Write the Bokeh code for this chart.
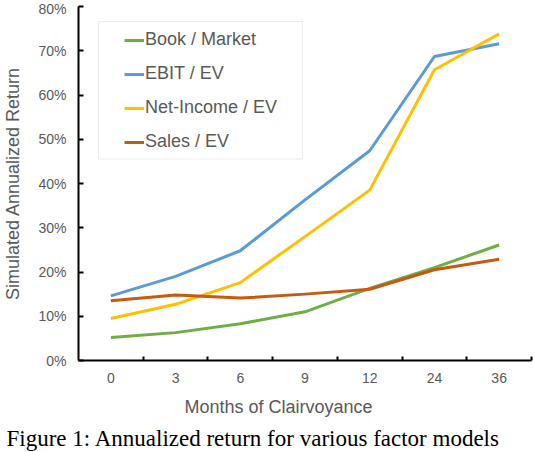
from bokeh.embed import file_html
from bokeh.models import (BoxAnnotation, FixedTicker, Legend, LegendItem,
                          PrintfTickFormatter, Range1d, Title)
from bokeh.plotting import figure
from bokeh.resources import INLINE


months = ["0", "3", "6", "9", "12", "24", "36"]
book_market = [5.2, 6.3, 8.3, 11.0, 16.3, 21.0, 26.1]
ebit_ev = [14.6, 19.0, 24.8, 36.3, 47.4, 68.7, 71.6]
net_income_ev = [9.5, 12.7, 17.6, 28.0, 38.5, 65.7, 73.8]
sales_ev = [13.5, 14.8, 14.1, 15.0, 16.1, 20.5, 22.9]
y_ticks = [0, 10, 20, 30, 40, 50, 60, 70, 80]

FONT = "Liberation Sans"
GRAY = "#595959"

# categories sit in the middle of unit-wide slots, ticks go on the slot edges
x = [i + 0.5 for i in range(len(months))]

p = figure(width=534, height=452, x_range=Range1d(0, len(months)),
           y_range=Range1d(0, 80), output_backend="svg",
           toolbar_location=None, min_border_left=75, min_border_right=3,
           min_border_top=6, min_border_bottom=92)
p.outline_line_color = None
p.grid.visible = False

series = [("Book / Market", book_market, "#70AD47"),
          ("EBIT / EV", ebit_ev, "#5B9BD5"),
          ("Net-Income / EV", net_income_ev, "#FFC000"),
          ("Sales / EV", sales_ev, "#C55A11")]

items = []
for name, ys, color in series:
    r = p.line(x, ys, color=color, line_width=3, line_join="round")
    items.append(LegendItem(label=name, renderers=[r]))

# x axis
p.xaxis.ticker = FixedTicker(ticks=x, minor_ticks=list(range(1, len(months) + 1)))
p.xaxis.major_label_overrides = {xi: m for xi, m in zip(x, months)}
p.xaxis.major_tick_in = 0
p.xaxis.major_tick_out = 0
p.xaxis.minor_tick_in = 4
p.xaxis.minor_tick_out = 0
p.xaxis.minor_tick_line_width = 2
p.xaxis.minor_tick_line_color = "black"
p.xaxis.major_label_standoff = 12

# y axis
p.yaxis.ticker = FixedTicker(ticks=y_ticks, minor_ticks=[])
p.yaxis.formatter = PrintfTickFormatter(format="%d%%")
p.yaxis.major_tick_in = 5
p.yaxis.major_tick_out = 0
p.yaxis.major_tick_line_width = 2
p.yaxis.major_label_standoff = 12
p.yaxis.axis_label = "Simulated Annualized Return"
p.yaxis.axis_label_standoff = 12
p.yaxis.axis_label_text_font = FONT
p.yaxis.axis_label_text_font_size = "18px"
p.yaxis.axis_label_text_font_style = "normal"
p.yaxis.axis_label_text_color = GRAY

for ax in (p.xaxis, p.yaxis):
    ax.axis_line_width = 2
    ax.axis_line_color = "black"
    ax.major_tick_line_color = "black"
    ax.major_label_text_font = FONT
    ax.major_label_text_font_size = "14px"
    ax.major_label_text_color = GRAY

# x title and figure caption stacked under the axis
x_title = Title(text="Months of Clairvoyance", align="left", offset=106,
                vertical_align="bottom", standoff=18, text_font=FONT,
                text_font_size="18px", text_font_style="normal",
                text_color=GRAY)
p.add_layout(x_title, "below")
caption = Title(text="Figure 1: Annualized return for various factor models",
                align="left", offset=-72, vertical_align="top", standoff=0,
                text_font="Liberation Serif", text_font_size="23px",
                text_font_style="normal", text_color="black")
p.add_layout(caption, "below")

# legend frame
p.add_layout(BoxAnnotation(left=20, right=224, top=339, bottom=201.5,
                           left_units="screen", right_units="screen",
                           top_units="screen", bottom_units="screen",
                           fill_color="white", fill_alpha=1,
                           line_color="#BFBFBF", line_width=1))

legend = Legend(items=items, location=(46, 208))
legend.padding = 0
legend.spacing = 13
legend.glyph_width = 20
legend.glyph_height = 20
legend.label_height = 20
legend.label_standoff = 1
legend.label_text_font = FONT
legend.label_text_font_size = "18px"
legend.label_text_color = GRAY
legend.border_line_alpha = 0
legend.background_fill_alpha = 0
p.add_layout(legend)

open("out.html", "w").write(file_html(p, INLINE))
